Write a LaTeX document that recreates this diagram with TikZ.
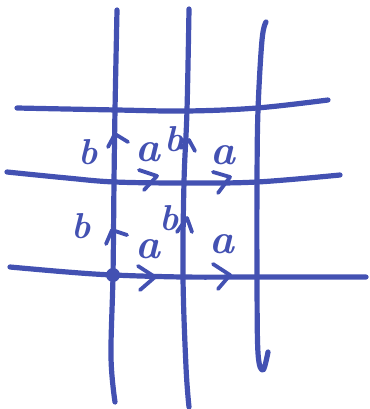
\documentclass[tikz,border=0pt]{standalone}
\usepackage{fontspec}
\definecolor{ink}{RGB}{67,81,178}
\tikzset{
  stroke/.style={draw=ink,line width=5.2pt,line cap=round,line join=round},
  chev/.style={draw=ink,line width=3.8pt,line cap=round,line join=round},
  lab/.style={text=ink,font=\fontsize{36}{36}\selectfont\bfseries\itshape,inner sep=0pt},
  laba/.style={text=ink,font=\fontsize{42}{42}\selectfont\bfseries\itshape,inner sep=0pt}
}
\begin{document}
\begin{tikzpicture}[x=1pt,y=-1pt]
\useasboundingbox (0,0) rectangle (369,409);
% horizontal lines
\draw[stroke] plot[smooth,tension=0.6] coordinates {(17,108) (117,110) (187,111) (257,108) (328,100)};
\draw[stroke] plot[smooth,tension=0.6] coordinates {(7,172) (67,178) (115,182) (187,183) (257,182) (340,175)};
\draw[stroke] plot[smooth,tension=0.6] coordinates {(10,267) (67,272) (113,275) (183,277) (257,277) (366,277)};
% vertical lines
\draw[stroke] plot[smooth,tension=0.6] coordinates {(117,10) (115,110) (114,182) (113,275) (111,357) (115,402)};
\draw[stroke] plot[smooth,tension=0.6] coordinates {(189,9) (187,110) (184,182) (183,277) (186,367) (189,407)};
\draw[stroke] plot[smooth,tension=0.6] coordinates {(266,22) (262,40) (258,110) (257,182) (257,277) (258,353) (263,370) (268,352)};
% dot
\fill[ink] (113,275) circle[radius=7];
% horizontal chevrons
\draw[chev] (138,266) -- (155,277) -- (140,290);
\draw[chev] (213,264) -- (230,275) -- (218,289);
\draw[chev] (139,170) -- (157,176) -- (144,190);
\draw[chev] (213,172) -- (230,177) -- (218,193);
% vertical chevrons
\draw[chev] (106,244) -- (112,230) -- (127,235);
\draw[chev] (108,147) -- (115,134) -- (128,142);
\draw[chev] (181,148) -- (189,140) -- (195,151);
\draw[chev] (177,232) -- (187,218) -- (192,232);
% labels
\node[lab] (b1) at (88,152) {b};
\node[lab] (b2) at (81,226) {b};
\node[laba] (a1) at (148,152) {a};
\node[lab] (b3) at (174,139) {b};
\node[laba] (a2) at (223,155) {a};
\node[lab] (b4) at (169,218) {b};
\node[laba] (a3) at (148,249) {a};
\node[laba] (a4) at (222,244) {a};
\end{tikzpicture}
\end{document}
